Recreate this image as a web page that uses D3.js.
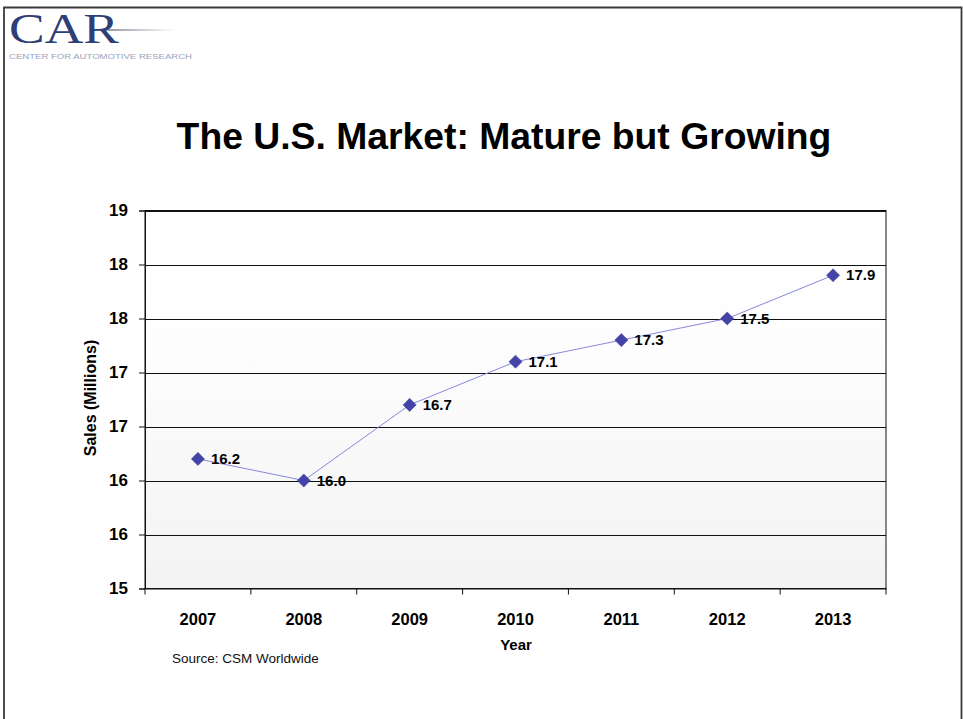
<!DOCTYPE html>
<html><head><meta charset="utf-8">
<script src="https://cdn.jsdelivr.net/npm/d3@7/dist/d3.min.js"></script>
<style>body{margin:0;background:#fff;}svg{display:block;}</style>
</head><body>
<script>
const years = ["2007","2008","2009","2010","2011","2012","2013"];
const sales = [16.2, 16.0, 16.7, 17.1, 17.3, 17.5, 17.9];
const salesLabels = ["16.2","16.0","16.7","17.1","17.3","17.5","17.9"];
const yTicks = [15, 15.5, 16, 16.5, 17, 17.5, 18, 18.5];
const yTickLabels = ["15","16","16","17","17","18","18","19"];
const titleText = "The U.S. Market: Mature but Growing";

const W = 963, H = 719;
const svg = d3.select("body").append("svg").attr("width", W).attr("height", H);
const font = "'Liberation Sans', Arial, sans-serif";

// page frame
svg.append("path").attr("d", "M4,719 L4,7.5 L961.5,7.5 L961.5,719")
  .attr("fill","none").attr("stroke","#3a3a3a").attr("stroke-width",1.8);

// logo
const defs = svg.append("defs");
const lg = defs.append("linearGradient").attr("id","logoLine").attr("x1","0").attr("x2","1");
lg.append("stop").attr("offset","0").attr("stop-color","#8a8f9c");
lg.append("stop").attr("offset","1").attr("stop-color","#ffffff");
svg.append("rect").attr("x",100).attr("y",29).attr("width",75).attr("height",2).attr("fill","url(#logoLine)");
svg.append("text").attr("x",9).attr("y",43).attr("font-family","'Liberation Serif','Times New Roman',serif")
  .attr("font-size",42).attr("fill","#2e3f78").attr("textLength",110).attr("lengthAdjust","spacingAndGlyphs").text("CAR");
svg.append("text").attr("x",9).attr("y",59).attr("font-family",font)
  .attr("font-size",7).attr("fill","#9aa3bd").attr("textLength",183).attr("lengthAdjust","spacingAndGlyphs")
  .text("CENTER FOR AUTOMOTIVE RESEARCH");

// title
svg.append("text").attr("x",504).attr("y",149).attr("text-anchor","middle")
  .attr("font-family",font).attr("font-weight","bold").attr("font-size",37.3).attr("fill","#000")
  .text(titleText);

// plot area
const m = {left:145, top:210.5, right:886, bottom:588.5};
const x = d3.scaleBand().domain(years).range([m.left, m.right]);
const y = d3.scaleLinear().domain([15, 18.5]).range([m.bottom, m.top]);

const bg = defs.append("linearGradient").attr("id","plotBg").attr("x1","0").attr("x2","0").attr("y1","0").attr("y2","1");
bg.append("stop").attr("offset","0").attr("stop-color","#ffffff");
bg.append("stop").attr("offset","0.3").attr("stop-color","#fefefe");
bg.append("stop").attr("offset","1").attr("stop-color","#f3f3f3");
svg.append("rect").attr("x",m.left).attr("y",m.top).attr("width",m.right-m.left).attr("height",m.bottom-m.top)
  .attr("fill","url(#plotBg)").attr("stroke","#111").attr("stroke-width",1);

// gridlines
svg.append("g").selectAll("line").data(yTicks.slice(1)).join("line")
  .attr("x1",m.left).attr("x2",m.right).attr("y1",d=>Math.round(y(d))+0.5).attr("y2",d=>Math.round(y(d))+0.5)
  .attr("stroke","#111").attr("stroke-width",1);

// y axis
const yAxis = d3.axisLeft(y).tickValues(yTicks).tickSize(6).tickFormat((d,i)=>yTickLabels[i]);
const gy = svg.append("g").attr("transform",`translate(${m.left},0)`).call(yAxis);
gy.select(".domain").attr("stroke","#111");
gy.selectAll(".tick line").attr("stroke","#111");
gy.selectAll(".tick text").attr("font-family",font).attr("font-weight","bold").attr("font-size",17)
  .attr("fill","#000").attr("x",-17);

// x axis with ticks at category boundaries
const gx = svg.append("g").attr("transform",`translate(0,${m.bottom})`).call(d3.axisBottom(x).tickSize(0).tickPadding(25));
gx.select(".domain").attr("stroke","#111");
gx.selectAll(".tick text").attr("font-family",font).attr("font-weight","bold").attr("font-size",16.5).attr("fill","#000");
const bounds = years.map(d=>x(d)).concat([m.right]);
gx.append("g").selectAll("line").data(bounds).join("line")
  .attr("x1",d=>d).attr("x2",d=>d).attr("y1",0).attr("y2",6).attr("stroke","#111");

// axis titles
svg.append("text").attr("x",516).attr("y",650).attr("text-anchor","middle")
  .attr("font-family",font).attr("font-weight","bold").attr("font-size",15).text("Year");
svg.append("text").attr("transform","translate(96,398) rotate(-90)").attr("text-anchor","middle")
  .attr("font-family",font).attr("font-weight","bold").attr("font-size",16).text("Sales (Millions)");
svg.append("text").attr("x",172).attr("y",663)
  .attr("font-family",font).attr("font-size",13.5).attr("fill","#111").text("Source: CSM Worldwide");

// line
const cx = d => x(d) + x.bandwidth()/2;
const line = d3.line().x((d,i)=>cx(years[i])).y(d=>y(d));
svg.append("path").datum(sales).attr("d",line).attr("fill","none").attr("stroke","#8888dd").attr("stroke-width",1);

// markers
svg.append("g").selectAll("path").data(sales).join("path")
  .attr("d", d3.symbol().type(d3.symbolDiamond2).size(110))
  .attr("transform",(d,i)=>`translate(${cx(years[i])},${y(d)})`)
  .attr("fill","#4444a8").attr("stroke","#3a3a9c").attr("stroke-width",0.5);

// data labels
svg.append("g").selectAll("text").data(sales).join("text")
  .attr("x",(d,i)=>cx(years[i])+13).attr("y",d=>y(d)+5)
  .attr("font-family",font).attr("font-weight","bold").attr("font-size",15).attr("fill","#000")
  .text((d,i)=>salesLabels[i]);
</script>
</body></html>
